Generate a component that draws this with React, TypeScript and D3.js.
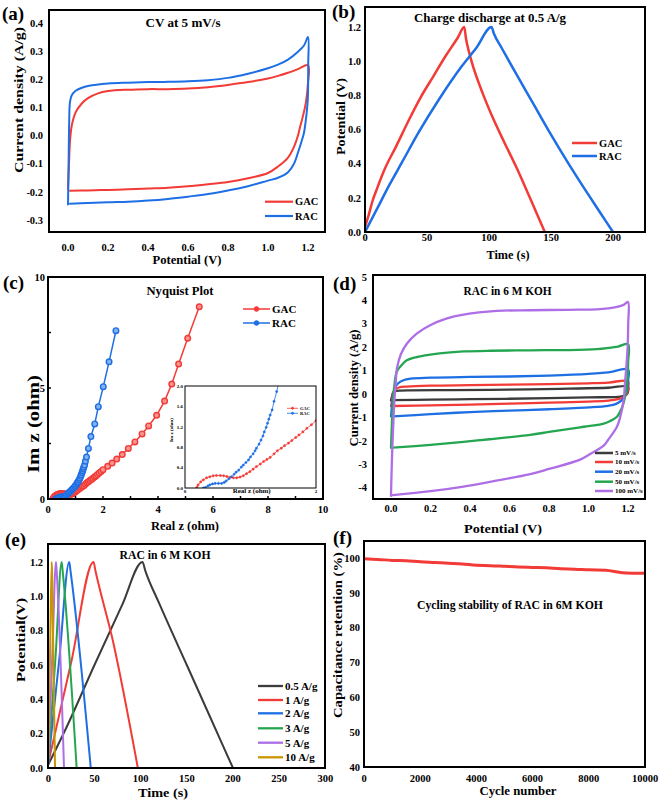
import * as d3 from "d3";

type Pt = [number, number];
type Box = { l: number; t: number; r: number; b: number };
type Scale = d3.ScaleLinear<number, number>;

const FONT = "'Liberation Serif', 'Times New Roman', Times, serif";

const RED = "#f23b36";
const BLUE = "#1e6fe4";
const GREEN = "#24a650";
const PURPLE = "#ad6ee6";
const DARK = "#3b3b3b";
const GOLD = "#c99400";

// (a) CV at 5 mV/s — loops in scan order
const cvGAC: Pt[] = [
  [0.0, -0.19], [0.005, -0.1], [0.01, -0.02], [0.02, 0.04], [0.04, 0.085], [0.07, 0.115],
  [0.1, 0.133], [0.15, 0.15], [0.2, 0.158], [0.3, 0.163], [0.4, 0.165], [0.5, 0.165],
  [0.6, 0.167], [0.7, 0.172], [0.8, 0.18], [0.9, 0.19], [1.0, 0.203], [1.05, 0.212],
  [1.1, 0.223], [1.15, 0.236], [1.2, 0.25], [1.199, 0.18], [1.19, 0.12], [1.175, 0.07],
  [1.16, 0.03], [1.15, 0.0], [1.13, -0.04], [1.1, -0.078], [1.05, -0.11], [1.0, -0.133],
  [0.9, -0.152], [0.8, -0.165], [0.7, -0.173], [0.6, -0.18], [0.5, -0.185], [0.4, -0.188],
  [0.3, -0.191], [0.2, -0.193], [0.1, -0.195], [0.01, -0.196],
];
const cvRAC: Pt[] = [
  [0.0, -0.245], [0.003, -0.1], [0.006, 0.05], [0.01, 0.12], [0.02, 0.145], [0.04, 0.16],
  [0.07, 0.17], [0.1, 0.176], [0.2, 0.185], [0.3, 0.188], [0.4, 0.19], [0.5, 0.191],
  [0.6, 0.193], [0.7, 0.197], [0.8, 0.205], [0.9, 0.22], [1.0, 0.239], [1.05, 0.252],
  [1.1, 0.27], [1.15, 0.298], [1.18, 0.32], [1.2, 0.35], [1.201, 0.25], [1.199, 0.13],
  [1.19, 0.06], [1.18, 0.01], [1.168, -0.02], [1.15, -0.06], [1.13, -0.1], [1.1, -0.13],
  [1.05, -0.15], [1.0, -0.16], [0.9, -0.18], [0.8, -0.195], [0.7, -0.208], [0.6, -0.217],
  [0.5, -0.225], [0.4, -0.231], [0.3, -0.235], [0.2, -0.237], [0.1, -0.24], [0.01, -0.242],
];
const aXTicks = [0.0, 0.2, 0.4, 0.6, 0.8, 1.0, 1.2];
const aYTicks = [-0.3, -0.2, -0.1, 0.0, 0.1, 0.2, 0.3, 0.4];

// (b) charge discharge at 0.5 A/g
const gcdGAC: Pt[] = [
  [0, 0.03], [3, 0.1], [6, 0.18], [10, 0.26], [16, 0.37], [25, 0.5], [35, 0.65], [45, 0.79],
  [55, 0.91], [65, 1.03], [75, 1.14], [80, 1.2], [81.5, 1.13], [84, 1.05], [88, 0.95],
  [95, 0.81], [103, 0.67], [112, 0.53], [122, 0.38], [133, 0.2], [145, 0.0],
];
const gcdRAC: Pt[] = [
  [0, 0.0], [10, 0.14], [20, 0.28], [30, 0.41], [43, 0.58], [60, 0.78], [78, 0.97], [90, 1.08],
  [102, 1.2], [104, 1.16], [110, 1.08], [120, 0.95], [135, 0.76], [150, 0.57], [165, 0.39],
  [180, 0.22], [190, 0.11], [200, 0.0],
];
const bXTicks = [0, 50, 100, 150, 200];
const bYTicks = [0.0, 0.2, 0.4, 0.6, 0.8, 1.0, 1.2];

// (c) Nyquist
const nyqGAC: Pt[] = [
  [0.18, 0.01], [0.2, 0.06], [0.24, 0.12], [0.28, 0.16], [0.33, 0.2], [0.38, 0.22], [0.43, 0.24],
  [0.48, 0.245], [0.54, 0.245], [0.59, 0.24], [0.64, 0.225], [0.69, 0.21], [0.74, 0.2],
  [0.79, 0.2], [0.84, 0.215], [0.89, 0.24], [0.94, 0.28], [0.99, 0.32], [1.04, 0.37],
  [1.09, 0.42], [1.15, 0.47], [1.2, 0.52], [1.25, 0.56], [1.3, 0.6], [1.36, 0.67], [1.41, 0.73],
  [1.47, 0.78], [1.52, 0.83], [1.58, 0.88], [1.63, 0.93], [1.69, 0.99], [1.74, 1.04],
  [1.8, 1.1], [1.86, 1.17], [1.93, 1.24], [2.0, 1.32], [2.17, 1.47], [2.33, 1.62], [2.5, 1.8],
  [2.7, 2.0], [2.92, 2.28], [3.16, 2.57], [3.42, 2.93], [3.66, 3.29], [3.95, 3.77], [4.24, 4.41],
  [4.5, 5.18], [4.75, 6.08], [5.08, 7.24], [5.5, 8.66],
];
const nyqRAC: Pt[] = [
  [0.28, 0.0], [0.31, 0.01], [0.35, 0.04], [0.38, 0.06], [0.42, 0.08], [0.46, 0.09], [0.51, 0.09],
  [0.56, 0.09], [0.6, 0.11], [0.63, 0.14], [0.67, 0.18], [0.71, 0.22], [0.75, 0.27], [0.78, 0.31],
  [0.82, 0.35], [0.86, 0.41], [0.89, 0.45], [0.93, 0.5], [0.97, 0.55], [1.0, 0.61], [1.04, 0.67],
  [1.07, 0.73], [1.09, 0.78], [1.13, 0.86], [1.16, 0.94], [1.19, 1.02], [1.21, 1.1], [1.24, 1.19],
  [1.26, 1.27], [1.28, 1.35], [1.3, 1.43], [1.33, 1.53], [1.36, 1.7], [1.4, 1.89], [1.47, 2.28],
  [1.56, 2.81], [1.7, 3.38], [1.83, 4.16], [2.01, 5.06], [2.22, 6.18], [2.47, 7.58],
];
const cXTicks = [0, 2, 4, 6, 8, 10];
const cYTicks = [0, 5, 10];
const insetTicks = [0.0, 0.4, 0.8, 1.2, 1.6, 2.0];

// (d) CV at several scan rates
const rateLabels = ["5 mV/s", "10 mV/s", "20 mV/s", "50 mV/s", "100 mV/s"];
const cv5: Pt[] = [
  [0.0, -0.27], [0.005, -0.1], [0.01, 0.05], [0.02, 0.12], [0.05, 0.15], [0.1, 0.16], [0.3, 0.17],
  [0.5, 0.18], [0.7, 0.2], [0.9, 0.23], [1.1, 0.27], [1.2, 0.32], [1.201, 0.15], [1.195, 0.0],
  [1.18, -0.08], [1.15, -0.12], [1.0, -0.14], [0.8, -0.17], [0.6, -0.2], [0.4, -0.22],
  [0.2, -0.24], [0.01, -0.26],
];
const cv10: Pt[] = [
  [0.0, -0.52], [0.005, -0.3], [0.01, 0.0], [0.02, 0.2], [0.04, 0.28], [0.08, 0.32], [0.2, 0.36],
  [0.4, 0.38], [0.6, 0.4], [0.8, 0.42], [1.0, 0.46], [1.1, 0.49], [1.2, 0.55], [1.201, 0.3],
  [1.195, 0.05], [1.18, -0.12], [1.15, -0.22], [1.1, -0.28], [1.0, -0.32], [0.8, -0.37],
  [0.6, -0.41], [0.4, -0.45], [0.2, -0.48], [0.01, -0.51],
];
const cv20: Pt[] = [
  [0.0, -0.95], [0.005, -0.5], [0.01, -0.1], [0.02, 0.25], [0.035, 0.45], [0.06, 0.58],
  [0.1, 0.66], [0.2, 0.7], [0.4, 0.73], [0.6, 0.75], [0.8, 0.79], [1.0, 0.86], [1.1, 0.93],
  [1.2, 1.05], [1.201, 0.6], [1.195, 0.2], [1.185, -0.05], [1.17, -0.25], [1.14, -0.42],
  [1.1, -0.5], [1.0, -0.57], [0.8, -0.65], [0.6, -0.71], [0.4, -0.77], [0.2, -0.86],
  [0.01, -0.95],
];
const cv50: Pt[] = [
  [0.0, -2.3], [0.004, -1.4], [0.009, -0.5], [0.015, 0.2], [0.029, 0.95], [0.05, 1.2],
  [0.08, 1.44], [0.13, 1.58], [0.198, 1.68], [0.3, 1.78], [0.367, 1.82], [0.5, 1.85],
  [0.7, 1.87], [0.9, 1.88], [1.043, 1.92], [1.1, 1.97], [1.15, 2.03], [1.2, 2.13],
  [1.201, 1.4], [1.197, 0.6], [1.19, 0.1], [1.175, -0.45], [1.16, -0.75], [1.144, -0.97],
  [1.11, -1.15], [1.077, -1.26], [1.0, -1.37], [0.958, -1.42], [0.8, -1.62], [0.705, -1.74],
  [0.5, -1.93], [0.367, -2.04], [0.2, -2.17], [0.01, -2.29],
];
const cv100: Pt[] = [
  [0.0, -4.35], [0.004, -3.0], [0.01, -1.6], [0.017, -0.3], [0.024, 0.5], [0.03, 1.1],
  [0.05, 1.7], [0.08, 2.15], [0.13, 2.58], [0.198, 2.94], [0.28, 3.22], [0.367, 3.39],
  [0.536, 3.55], [0.705, 3.58], [0.9, 3.6], [1.043, 3.62], [1.1, 3.66], [1.144, 3.72],
  [1.18, 3.82], [1.2, 3.93], [1.201, 3.0], [1.198, 2.0], [1.192, 1.2], [1.185, 0.5],
  [1.178, -0.26], [1.16, -1.0], [1.144, -1.4], [1.1, -1.95], [1.077, -2.2], [1.0, -2.6],
  [0.958, -2.8], [0.8, -3.2], [0.705, -3.42], [0.5, -3.75], [0.367, -3.95], [0.2, -4.15],
  [0.01, -4.32],
];
const dXTicks = [0.0, 0.2, 0.4, 0.6, 0.8, 1.0, 1.2];
const dYTicks = [-4, -3, -2, -1, 0, 1, 2, 3, 4, 5];

// (e) charge discharge at several currents
const currentLabels = ["0.5 A/g", "1 A/g", "2 A/g", "3 A/g", "5 A/g", "10 A/g"];
const gcd05: Pt[] = [[0, 0.02], [20, 0.24], [50, 0.6], [80, 0.95], [102, 1.2], [105, 1.15], [120, 0.96], [150, 0.6], [175, 0.3], [200, 0.0]];
const gcd1: Pt[] = [[0, 0.03], [25, 0.62], [49, 1.2], [51, 1.15], [70, 0.74], [97, 0.0]];
const gcd2: Pt[] = [[0, 0.03], [12, 0.64], [22.7, 1.2], [24, 1.15], [46, 0.0]];
const gcd3: Pt[] = [[0, 0.04], [8, 0.66], [14.5, 1.2], [15.5, 1.15], [30.7, 0.0]];
const gcd5: Pt[] = [[0, 0.05], [4.5, 0.68], [8.3, 1.2], [9, 1.15], [17, 0.0]];
const gcd10: Pt[] = [[0, 0.06], [2, 0.7], [3.7, 1.2], [4.2, 1.1], [7.3, 0.0]];
const eXTicks = [0, 50, 100, 150, 200, 250, 300];
const eYTicks = [0.0, 0.2, 0.4, 0.6, 0.8, 1.0, 1.2];

// (f) cycling stability
const cycles = [0, 500, 1000, 1500, 2000, 2500, 3000, 3500, 4000, 4500, 5000, 5500, 6000, 6500, 7000, 7500, 8000, 8600, 9200, 10000];
const retention = [99.8, 99.6, 99.3, 99.2, 98.9, 98.7, 98.5, 98.3, 97.9, 97.8, 97.6, 97.4, 97.3, 97.2, 96.9, 96.8, 96.6, 96.5, 95.8, 95.6];
const fXTicks = [0, 2000, 4000, 6000, 8000, 10000];
const fYTicks = [40, 50, 60, 70, 80, 90, 100];

// layout
const boxA: Box = { l: 49, t: 10, r: 325, b: 232 };
const boxB: Box = { l: 365, t: 7, r: 645, b: 232 };
const boxC: Box = { l: 48, t: 277, r: 323, b: 499 };
const boxI: Box = { l: 185, t: 386, r: 316, b: 488 };
const boxD: Box = { l: 373, t: 275, r: 645, b: 499 };
const boxE: Box = { l: 48, t: 544, r: 325, b: 768 };
const boxF: Box = { l: 364, t: 541, r: 645, b: 767 };

const xa = d3.scaleLinear().domain([0, 1.2]).range([68, 308]);
const ya = d3.scaleLinear().domain([0.4, -0.3]).range([23, 220]);
const xb = d3.scaleLinear().domain([0, 200]).range([365, 613]);
const yb = d3.scaleLinear().domain([0, 1.2]).range([232, 27]);
const xc = d3.scaleLinear().domain([0, 10]).range([48, 323]);
const yc = d3.scaleLinear().domain([0, 10]).range([499, 277]);
const xi = d3.scaleLinear().domain([0, 2]).range([185, 316]);
const yi = d3.scaleLinear().domain([0, 2]).range([488, 386]);
const xd = d3.scaleLinear().domain([0, 1.2]).range([391, 628]);
const yd = d3.scaleLinear().domain([5, -4]).range([277, 487.7]);
const xe = d3.scaleLinear().domain([0, 300]).range([48.3, 325.3]);
const ye = d3.scaleLinear().domain([0, 1.2]).range([768, 562]);
const xf = d3.scaleLinear().domain([0, 10000]).range([364, 645]);
const yf = d3.scaleLinear().domain([40, 100]).range([767, 558]);

const f1 = (v: number) => v.toFixed(1);
const f0 = (v: number) => String(v);

function Curve({ data, x, y, color, width, clip, curve }: {
  data: Pt[]; x: Scale; y: Scale; color: string; width: number; clip: string; curve?: d3.CurveFactory;
}) {
  const line = d3.line<Pt>().x((d) => x(d[0])).y((d) => y(d[1]))
    .curve(curve ?? d3.curveCatmullRom.alpha(0.5));
  return (
    <path d={line(data) ?? ""} fill="none" stroke={color} strokeWidth={width}
      strokeLinejoin="round" strokeLinecap="round" clipPath={`url(#${clip})`} />
  );
}

function Axes({ box, x, y, xTicks, yTicks, xFmt, yFmt, xTickY, yTickX }: {
  box: Box; x: Scale; y: Scale; xTicks: number[]; yTicks: number[];
  xFmt: (v: number) => string; yFmt: (v: number) => string; xTickY: number; yTickX: number;
}) {
  return (
    <g fontSize={10.5}>
      {xTicks.map((t) => (
        <text key={`x${t}`} x={x(t)} y={xTickY} textAnchor="middle">{xFmt(t)}</text>
      ))}
      {yTicks.map((t) => (
        <text key={`y${t}`} x={yTickX} y={y(t)} dy="0.35em" textAnchor="end">{yFmt(t)}</text>
      ))}
      <rect x={box.l} y={box.t} width={box.r - box.l} height={box.b - box.t}
        fill="none" stroke="#000" strokeWidth={2} />
    </g>
  );
}

function Label({ x, y, len, size = 13, rotate = false, children }: {
  x: number; y: number; len: number; size?: number; rotate?: boolean; children: string;
}) {
  return (
    <text transform={`translate(${x},${y})${rotate ? " rotate(-90)" : ""}`} textAnchor="middle"
      dy="0.35em" fontSize={size} textLength={len} lengthAdjust="spacingAndGlyphs">
      {children}
    </text>
  );
}

function LegendRow({ x1, x2, y, color, width, label, size, marker }: {
  x1: number; x2: number; y: number; color: string; width: number; label: string; size: number; marker?: number;
}) {
  return (
    <g>
      <line x1={x1} x2={x2} y1={y} y2={y} stroke={color} strokeWidth={width} />
      {marker ? <circle cx={(x1 + x2) / 2} cy={y} r={marker} fill={color} stroke={color} strokeWidth={1} /> : null}
      <text x={x2 + 2} y={y} dy="0.35em" fontSize={size}>{label}</text>
    </g>
  );
}

function Markers({ data, x, y, color, r, clip, fill }: {
  data: Pt[]; x: Scale; y: Scale; color: string; r: number; clip: string; fill: string;
}) {
  return (
    <g clipPath={`url(#${clip})`}>
      {data.map((d, i) => (
        <circle key={i} cx={x(d[0])} cy={y(d[1])} r={r} fill={fill} stroke={color} strokeWidth={r > 2 ? 1.4 : 0.6} />
      ))}
    </g>
  );
}

const clipRect = (id: string, b: Box) => (
  <clipPath id={id} key={id}>
    <rect x={b.l} y={b.t} width={b.r - b.l} height={b.b - b.t} />
  </clipPath>
);

export default function App() {
  const dSeries = [cv5, cv10, cv20, cv50, cv100];
  const dColors = [DARK, RED, BLUE, GREEN, PURPLE];
  const dLegendY = [453, 462, 471.7, 481.7, 491];
  const eSeries = [gcd05, gcd1, gcd2, gcd3, gcd5, gcd10];
  const eColors = [DARK, RED, BLUE, GREEN, PURPLE, GOLD];
  const eLegendY = [686, 700, 713.3, 728.3, 742.7, 757.3];
  const fData: Pt[] = cycles.map((c, i) => [c, retention[i]]);
  const lightRed = d3.interpolateRgb(RED, "#fff")(0.45);
  const lightBlue = d3.interpolateRgb(BLUE, "#fff")(0.45);

  return (
    <svg width={661} height={801} style={{ position: "absolute", left: 0, top: 0, background: "#fff" }}
      fontFamily={FONT} fontWeight="bold">
      <defs>
        {clipRect("cA", boxA)}
        {clipRect("cB", boxB)}
        {clipRect("cC", boxC)}
        {clipRect("cI", boxI)}
        {clipRect("cD", boxD)}
        {clipRect("cE", boxE)}
        {clipRect("cF", boxF)}
      </defs>
      <rect width={661} height={801} fill="#fff" />

      {/* (a) */}
      <text x={2} y={20} fontSize={19}>(a)</text>
      <Curve data={cvGAC} x={xa} y={ya} color={RED} width={2} clip="cA" />
      <Curve data={cvRAC} x={xa} y={ya} color={BLUE} width={2} clip="cA" />
      <Axes box={boxA} x={xa} y={ya} xTicks={aXTicks} yTicks={aYTicks} xFmt={f1} yFmt={f1} xTickY={250.5} yTickX={43} />
      <Label x={183} y={23} len={75} size={12}>CV at 5 mV/s</Label>
      <Label x={187} y={260} len={69} size={12.5}>Potential (V)</Label>
      <Label x={18} y={100} len={146} rotate>Current density (A/g)</Label>
      <LegendRow x1={265} x2={293} y={201.7} color={RED} width={2.2} label="GAC" size={10.5} />
      <LegendRow x1={265} x2={293} y={216} color={BLUE} width={2.2} label="RAC" size={10.5} />

      {/* (b) */}
      <text x={332} y={18} fontSize={19}>(b)</text>
      <Curve data={gcdGAC} x={xb} y={yb} color={RED} width={2.5} clip="cB" curve={d3.curveMonotoneX} />
      <Curve data={gcdRAC} x={xb} y={yb} color={BLUE} width={2.5} clip="cB" curve={d3.curveMonotoneX} />
      <Axes box={boxB} x={xb} y={yb} xTicks={bXTicks} yTicks={bYTicks} xFmt={f0} yFmt={f1} xTickY={240.5} yTickX={361} />
      <Label x={490} y={17.3} len={152} size={12}>Charge discharge at 0.5 A/g</Label>
      <Label x={508} y={254} len={43}>Time (s)</Label>
      <Label x={340} y={116.5} len={77} rotate>Potential (V)</Label>
      <LegendRow x1={572} x2={597} y={143} color={RED} width={2.5} label="GAC" size={10.5} />
      <LegendRow x1={572} x2={597} y={156} color={BLUE} width={2.5} label="RAC" size={10.5} />

      {/* (c) */}
      <text x={3} y={289} fontSize={19}>(c)</text>
      <Curve data={nyqGAC} x={xc} y={yc} color={RED} width={1.5} clip="cC" curve={d3.curveLinear} />
      <Curve data={nyqRAC} x={xc} y={yc} color={BLUE} width={1.5} clip="cC" curve={d3.curveLinear} />
      <Markers data={nyqGAC} x={xc} y={yc} color={RED} r={2.8} clip="cC" fill={lightRed} />
      <Markers data={nyqRAC} x={xc} y={yc} color={BLUE} r={2.8} clip="cC" fill={lightBlue} />
      {d3.range(0, 11, 1).map((t) => (
        <line key={`cx${t}`} x1={xc(t)} x2={xc(t)} y1={boxC.b} y2={boxC.b - 3} stroke="#000" strokeWidth={1.5} />
      ))}
      {d3.range(0, 10.1, 2.5).map((t) => (
        <line key={`cy${t}`} x1={boxC.l} x2={boxC.l + 3} y1={yc(t)} y2={yc(t)} stroke="#000" strokeWidth={1.5} />
      ))}
      <Axes box={boxC} x={xc} y={yc} xTicks={cXTicks} yTicks={cYTicks} xFmt={f0} yFmt={f0} xTickY={513} yTickX={45} />
      <Label x={180} y={291} len={67} size={12}>Nyquist Plot</Label>
      <Label x={185} y={525} len={68}>Real z (ohm)</Label>
      <Label x={33} y={424} len={98} size={17} rotate>Im z (ohm)</Label>
      <LegendRow x1={243} x2={270} y={309} color={RED} width={1.5} label="GAC" size={11} marker={2.3} />
      <LegendRow x1={243} x2={270} y={323} color={BLUE} width={1.5} label="RAC" size={11} marker={2.3} />

      {/* (c) inset */}
      <rect x={boxI.l} y={boxI.t} width={boxI.r - boxI.l} height={boxI.b - boxI.t} fill="#fff" />
      <Curve data={nyqGAC} x={xi} y={yi} color={RED} width={0.8} clip="cI" curve={d3.curveLinear} />
      <Curve data={nyqRAC} x={xi} y={yi} color={BLUE} width={0.8} clip="cI" curve={d3.curveLinear} />
      <Markers data={nyqGAC} x={xi} y={yi} color={RED} r={1.1} clip="cI" fill={RED} />
      <Markers data={nyqRAC} x={xi} y={yi} color={BLUE} r={1.1} clip="cI" fill={BLUE} />
      <rect x={boxI.l} y={boxI.t} width={boxI.r - boxI.l} height={boxI.b - boxI.t} fill="none" stroke="#000" strokeWidth={1} />
      <g fontSize={5}>
        {insetTicks.map((t) => (
          <text key={`iy${t}`} x={183} y={yi(t)} dy="0.35em" textAnchor="end">{f1(t)}</text>
        ))}
        <text x={xi(0)} y={491.5} dy="0.35em" textAnchor="middle">0</text>
        <text x={xi(2)} y={491.5} dy="0.35em" textAnchor="middle">2</text>
      </g>
      <Label x={251.7} y={491.5} len={38} size={5.5}>Real z (ohm)</Label>
      <Label x={171} y={430} len={24} size={5} rotate>Im z (ohm)</Label>
      <LegendRow x1={287} x2={298} y={408.3} color={RED} width={0.8} label="GAC" size={4.5} marker={1} />
      <LegendRow x1={287} x2={298} y={413.3} color={BLUE} width={0.8} label="RAC" size={4.5} marker={1} />

      {/* (d) */}
      <text x={333} y={290} fontSize={19}>(d)</text>
      {dSeries.map((s, i) => (
        <Curve key={`d${i}`} data={s} x={xd} y={yd} color={dColors[i]} width={2.3} clip="cD" />
      ))}
      <Axes box={boxD} x={xd} y={yd} xTicks={dXTicks} yTicks={dYTicks} xFmt={f1} yFmt={f0} xTickY={512} yTickX={367} />
      <Label x={507.6} y={291} len={88} size={12}>RAC in 6 M KOH</Label>
      <Label x={503} y={528} len={78}>Potential (V)</Label>
      <Label x={353} y={388} len={117} rotate>Current density (A/g)</Label>
      {rateLabels.map((l, i) => (
        <LegendRow key={l} x1={595} x2={613} y={dLegendY[i]} color={dColors[i]} width={2.5} label={l} size={7} />
      ))}

      {/* (e) */}
      <text x={5} y={546} fontSize={19}>(e)</text>
      {eSeries.map((s, i) => (
        <Curve key={`e${i}`} data={s} x={xe} y={ye} color={eColors[i]} width={2} clip="cE" curve={d3.curveMonotoneX} />
      ))}
      <Axes box={boxE} x={xe} y={ye} xTicks={eXTicks} yTicks={eYTicks} xFmt={f0} yFmt={f1} xTickY={782} yTickX={43} />
      <Label x={165} y={555} len={91} size={12}>RAC in 6 M KOH</Label>
      <Label x={163} y={792} len={50}>Time (s)</Label>
      <Label x={20} y={640} len={84} rotate>Potential(V)</Label>
      {currentLabels.map((l, i) => (
        <LegendRow key={l} x1={258} x2={283} y={eLegendY[i]} color={eColors[i]} width={2.3} label={l} size={11} />
      ))}

      {/* (f) */}
      <text x={333} y={544} fontSize={19}>(f)</text>
      <Curve data={fData} x={xf} y={yf} color={RED} width={3} clip="cF" curve={d3.curveMonotoneX} />
      <Axes box={boxF} x={xf} y={yf} xTicks={fXTicks} yTicks={fYTicks} xFmt={f0} yFmt={f0} xTickY={782} yTickX={360} />
      <Label x={510} y={605} len={186} size={12}>Cycling stability of RAC in 6M KOH</Label>
      <Label x={518} y={790} len={77}>Cycle number</Label>
      <Label x={337} y={635} len={166} rotate>Capacitance retention (%)</Label>
    </svg>
  );
}
